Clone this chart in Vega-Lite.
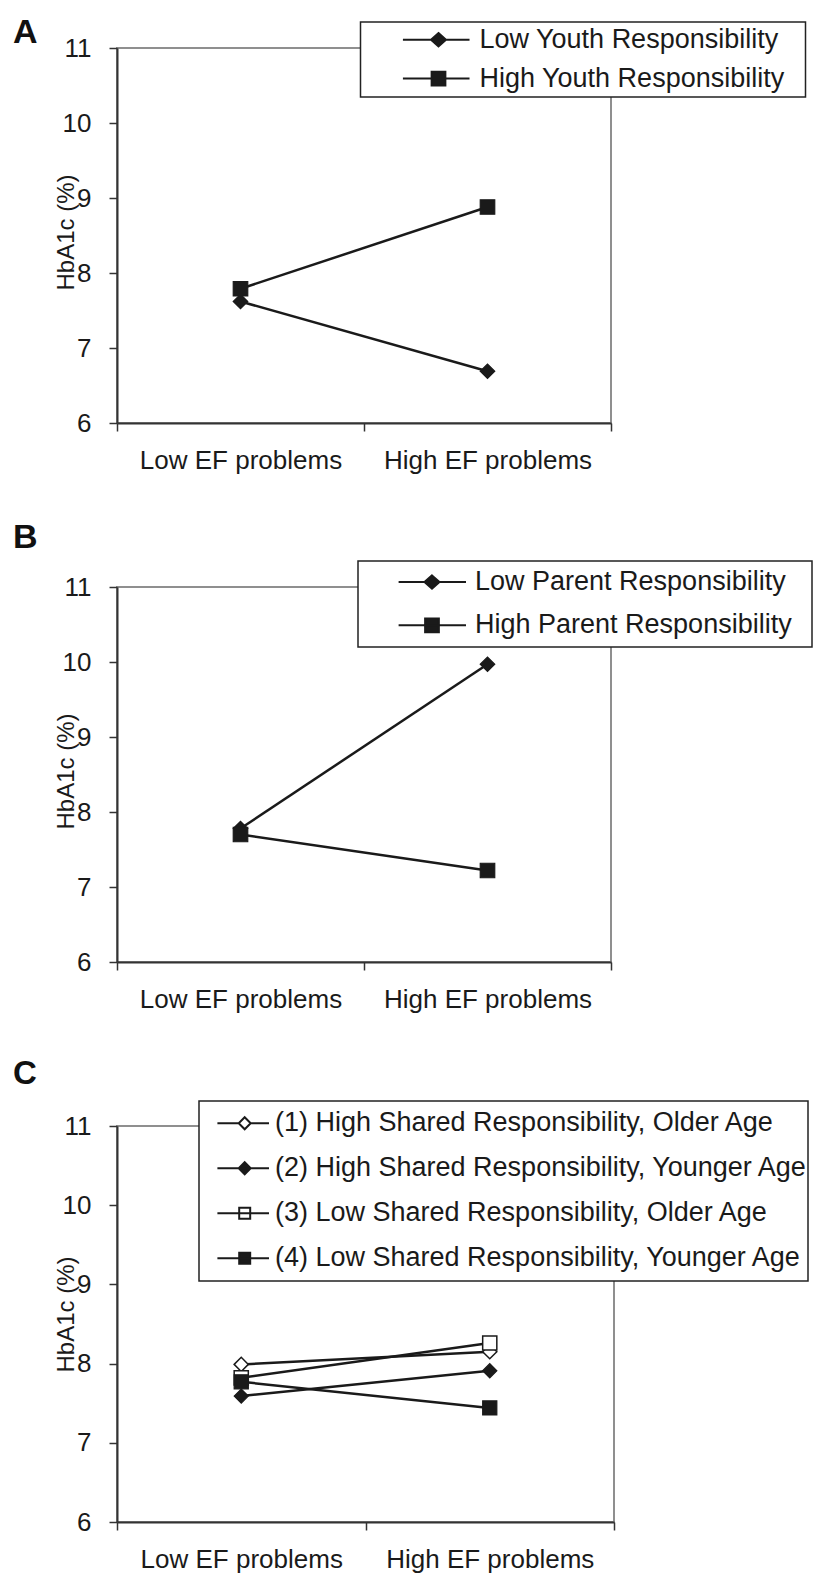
{
  "$schema": "https://vega.github.io/schema/vega-lite/v6.json",
  "padding": {"left": 12, "top": 14, "right": 0, "bottom": 0},
  "bounds": "flush",
  "spacing": 164,
  "background": "white",
  "resolve": {
    "scale": {"x": "independent", "y": "independent", "shape": "independent", "fill": "independent", "stroke": "independent"},
    "legend": {"shape": "independent", "fill": "independent", "stroke": "independent"}
  },
  "config": {
    "font": "Liberation Sans",
    "view": {"stroke": "#8f8f8f", "strokeWidth": 2},
    "axis": {
      "labelFont": "Liberation Sans", "labelFontSize": 26, "labelColor": "#1a1a1a", "labelLimit": 400,
      "domainColor": "#333333", "domainWidth": 2, "tickColor": "#333333", "tickWidth": 1.5, "tickSize": 8,
      "grid": false, "titleFont": "Liberation Sans", "titleFontWeight": "normal", "titleColor": "#1a1a1a"
    },
    "legend": {
      "labelFont": "Liberation Sans", "labelColor": "#1a1a1a", "strokeColor": "#222222", "strokeWidth": 1.5,
      "padding": 0, "fillColor": "white", "labelLimit": 2000, "symbolOpacity": 1, "symbolStrokeColor": "#1a1a1a"
    }
  },
  "datasets": {
    "a": [
      {"series": "Low Youth Responsibility", "ef": "Low EF problems", "hba1c": 7.62},
      {"series": "Low Youth Responsibility", "ef": "High EF problems", "hba1c": 6.69},
      {"series": "High Youth Responsibility", "ef": "Low EF problems", "hba1c": 7.79},
      {"series": "High Youth Responsibility", "ef": "High EF problems", "hba1c": 8.88}
    ],
    "b": [
      {"series": "Low Parent Responsibility", "ef": "Low EF problems", "hba1c": 7.78},
      {"series": "Low Parent Responsibility", "ef": "High EF problems", "hba1c": 9.97},
      {"series": "High Parent Responsibility", "ef": "Low EF problems", "hba1c": 7.70},
      {"series": "High Parent Responsibility", "ef": "High EF problems", "hba1c": 7.22}
    ],
    "c": [
      {"series": "(1) High Shared Responsibility, Older Age", "ef": "Low EF problems", "hba1c": 7.99},
      {"series": "(1) High Shared Responsibility, Older Age", "ef": "High EF problems", "hba1c": 8.15},
      {"series": "(2) High Shared Responsibility, Younger Age", "ef": "Low EF problems", "hba1c": 7.59},
      {"series": "(2) High Shared Responsibility, Younger Age", "ef": "High EF problems", "hba1c": 7.91},
      {"series": "(3) Low Shared Responsibility, Older Age", "ef": "Low EF problems", "hba1c": 7.82},
      {"series": "(3) Low Shared Responsibility, Older Age", "ef": "High EF problems", "hba1c": 8.26},
      {"series": "(4) Low Shared Responsibility, Younger Age", "ef": "Low EF problems", "hba1c": 7.77},
      {"series": "(4) Low Shared Responsibility, Younger Age", "ef": "High EF problems", "hba1c": 7.44}
    ]
  },
  "vconcat": [
    {
      "title": {"text": "A", "anchor": "start", "frame": "group", "dx": -104, "dy": 55.7, "offset": 0, "fontSize": 34, "fontWeight": "bold", "font": "Liberation Sans", "color": "#111111", "baseline": "alphabetic"},
      "data": {"name": "a"},
      "width": 494, "height": 375,
      "encoding": {
        "x": {"field": "ef", "type": "nominal", "sort": ["Low EF problems", "High EF problems"], "scale": {"type": "band", "paddingInner": 0, "paddingOuter": 0}, "axis": {"title": null, "labelAngle": 0, "tickBand": "extent", "labelPadding": 16}},
        "y": {"field": "hba1c", "type": "quantitative", "scale": {"domain": [6, 11], "nice": false, "zero": false}, "axis": {"values": [6, 7, 8, 9, 10, 11], "title": "HbA1c (%)", "titleFontSize": 24, "titleX": -44, "titleY": 184, "titleBaseline": "alphabetic", "labelPadding": 18}}
      },
      "layer": [
        {"mark": {"type": "line", "stroke": "#1a1a1a", "strokeWidth": 2.5}, "encoding": {"detail": {"field": "series", "type": "nominal"}}},
        {"mark": {"type": "point", "filled": false, "strokeWidth": 2, "opacity": 0},
         "encoding": {
           "shape": {"field": "series", "type": "nominal", "scale": {"domain": ["Low Youth Responsibility", "High Youth Responsibility"], "range": ["M-0.247,0H0.964M0.4,-0.12L0.536,0L0.4,0.12L0.264,0Z", "M-0.247,0H0.964M0.275,-0.125H0.525V0.125H0.275Z"]},
             "legend": {"orient": "none", "legendX": 243.5, "legendY": -26, "title": null, "labelFontSize": 27, "symbolSize": 12100, "symbolStrokeWidth": 2, "symbolOpacity": 1, "clipHeight": 35.4, "rowPadding": 2.9, "labelOffset": 7, "padding": 0,
               "labelExpr": "datum.label + '\u2800'"}},
           "fill": {"field": "series", "type": "nominal", "scale": {"domain": ["Low Youth Responsibility", "High Youth Responsibility"], "range": ["#1a1a1a", "#1a1a1a"]}},
           "stroke": {"field": "series", "type": "nominal", "scale": {"domain": ["Low Youth Responsibility", "High Youth Responsibility"], "range": ["#1a1a1a", "#1a1a1a"]}}
         }},
        {"transform": [{"filter": "datum.series === 'Low Youth Responsibility'"}],
         "mark": {"type": "point", "shape": "diamond", "filled": true, "fill": "#1a1a1a", "stroke": "#1a1a1a", "strokeWidth": 1.2, "size": 210, "opacity": 1}},
        {"transform": [{"filter": "datum.series === 'High Youth Responsibility'"}],
         "mark": {"type": "point", "shape": "square", "filled": true, "fill": "#1a1a1a", "stroke": "#1a1a1a", "strokeWidth": 1.2, "size": 210, "opacity": 1}}
      ]
    },
    {
      "title": {"text": "B", "anchor": "start", "frame": "group", "dx": -104, "dy": 21.3, "offset": 0, "fontSize": 34, "fontWeight": "bold", "font": "Liberation Sans", "color": "#111111", "baseline": "alphabetic"},
      "data": {"name": "b"},
      "width": 494, "height": 375,
      "encoding": {
        "x": {"field": "ef", "type": "nominal", "sort": ["Low EF problems", "High EF problems"], "scale": {"type": "band", "paddingInner": 0, "paddingOuter": 0}, "axis": {"title": null, "labelAngle": 0, "tickBand": "extent", "labelPadding": 16}},
        "y": {"field": "hba1c", "type": "quantitative", "scale": {"domain": [6, 11], "nice": false, "zero": false}, "axis": {"values": [6, 7, 8, 9, 10, 11], "title": "HbA1c (%)", "titleFontSize": 24, "titleX": -44, "titleY": 184, "titleBaseline": "alphabetic", "labelPadding": 18}}
      },
      "layer": [
        {"mark": {"type": "line", "stroke": "#1a1a1a", "strokeWidth": 2.5}, "encoding": {"detail": {"field": "series", "type": "nominal"}}},
        {"mark": {"type": "point", "filled": false, "strokeWidth": 2, "opacity": 0},
         "encoding": {
           "shape": {"field": "series", "type": "nominal", "scale": {"domain": ["Low Parent Responsibility", "High Parent Responsibility"], "range": ["M-0.28,0H0.945M0.327,-0.12L0.463,0L0.327,0.12L0.191,0Z", "M-0.28,0H0.945M0.202,-0.125H0.452V0.125H0.202Z"]},
             "legend": {"orient": "none", "legendX": 241, "legendY": -26, "title": null, "labelFontSize": 27, "symbolSize": 12100, "symbolStrokeWidth": 2, "symbolOpacity": 1, "clipHeight": 42, "rowPadding": 1.3, "labelOffset": 5, "padding": 0,
               "labelExpr": "datum.label + '\u2800'"}},
           "fill": {"field": "series", "type": "nominal", "scale": {"domain": ["Low Parent Responsibility", "High Parent Responsibility"], "range": ["#1a1a1a", "#1a1a1a"]}},
           "stroke": {"field": "series", "type": "nominal", "scale": {"domain": ["Low Parent Responsibility", "High Parent Responsibility"], "range": ["#1a1a1a", "#1a1a1a"]}}
         }},
        {"transform": [{"filter": "datum.series === 'Low Parent Responsibility'"}],
         "mark": {"type": "point", "shape": "diamond", "filled": true, "fill": "#1a1a1a", "stroke": "#1a1a1a", "strokeWidth": 1.2, "size": 210, "opacity": 1}},
        {"transform": [{"filter": "datum.series === 'High Parent Responsibility'"}],
         "mark": {"type": "point", "shape": "square", "filled": true, "fill": "#1a1a1a", "stroke": "#1a1a1a", "strokeWidth": 1.2, "size": 210, "opacity": 1}}
      ]
    },
    {
      "title": {"text": "C", "anchor": "start", "frame": "group", "dx": -104, "dy": 17, "offset": 0, "fontSize": 33, "fontWeight": "bold", "font": "Liberation Sans", "color": "#111111", "baseline": "alphabetic"},
      "data": {"name": "c"},
      "width": 497, "height": 396,
      "encoding": {
        "x": {"field": "ef", "type": "nominal", "sort": ["Low EF problems", "High EF problems"], "scale": {"type": "band", "paddingInner": 0, "paddingOuter": 0}, "axis": {"title": null, "labelAngle": 0, "tickBand": "extent", "labelPadding": 16}},
        "y": {"field": "hba1c", "type": "quantitative", "scale": {"domain": [6, 11], "nice": false, "zero": false}, "axis": {"values": [6, 7, 8, 9, 10, 11], "title": "HbA1c (%)", "titleFontSize": 24, "titleX": -44, "titleY": 188, "titleBaseline": "alphabetic", "labelPadding": 18}}
      },
      "layer": [
        {"mark": {"type": "line", "stroke": "#1a1a1a", "strokeWidth": 2.5}, "encoding": {"detail": {"field": "series", "type": "nominal"}}},
        {"mark": {"type": "point", "filled": false, "strokeWidth": 2, "opacity": 0},
         "encoding": {
           "shape": {"field": "series", "type": "nominal", "scale": {"domain": ["(1) High Shared Responsibility, Older Age", "(2) High Shared Responsibility, Younger Age", "(3) Low Shared Responsibility, Older Age", "(4) Low Shared Responsibility, Younger Age"], "range": ["M-0.503,0H0.106M0.448,0H0.971M0.277,-0.171L0.448,0L0.277,0.171L0.106,0Z", "M-0.503,0H0.971M0.277,-0.171L0.448,0L0.277,0.171L0.106,0Z", "M-0.503,0H0.971M0.12,-0.157H0.434V0.157H0.12Z", "M-0.503,0H0.971M0.12,-0.157H0.434V0.157H0.12Z"]},
             "legend": {"orient": "none", "legendX": 82, "legendY": -25, "title": null, "labelFontSize": 27, "symbolSize": 4900, "symbolStrokeWidth": 2, "symbolOpacity": 1, "clipHeight": 44.5, "rowPadding": 0, "labelOffset": 4, "padding": 0}},
           "fill": {"field": "series", "type": "nominal", "scale": {"domain": ["(1) High Shared Responsibility, Older Age", "(2) High Shared Responsibility, Younger Age", "(3) Low Shared Responsibility, Older Age", "(4) Low Shared Responsibility, Younger Age"], "range": ["white", "#1a1a1a", "white", "#1a1a1a"]}},
           "stroke": {"field": "series", "type": "nominal", "scale": {"domain": ["(1) High Shared Responsibility, Older Age", "(2) High Shared Responsibility, Younger Age", "(3) Low Shared Responsibility, Older Age", "(4) Low Shared Responsibility, Younger Age"], "range": ["#1a1a1a", "#1a1a1a", "#1a1a1a", "#1a1a1a"]}}
         }},
        {"transform": [{"filter": "datum.series === '(1) High Shared Responsibility, Older Age'"}],
         "mark": {"type": "point", "shape": "diamond", "filled": true, "fill": "white", "stroke": "#1a1a1a", "strokeWidth": 1.5, "size": 200, "opacity": 1}},
        {"transform": [{"filter": "datum.series === '(2) High Shared Responsibility, Younger Age'"}],
         "mark": {"type": "point", "shape": "diamond", "filled": true, "fill": "#1a1a1a", "stroke": "#1a1a1a", "strokeWidth": 1.2, "size": 200, "opacity": 1}},
        {"transform": [{"filter": "datum.series === '(3) Low Shared Responsibility, Older Age'"}],
         "mark": {"type": "point", "shape": "square", "filled": true, "fill": "white", "stroke": "#1a1a1a", "strokeWidth": 1.5, "size": 200, "opacity": 1}},
        {"transform": [{"filter": "datum.series === '(4) Low Shared Responsibility, Younger Age'"}],
         "mark": {"type": "point", "shape": "square", "filled": true, "fill": "#1a1a1a", "stroke": "#1a1a1a", "strokeWidth": 1.2, "size": 200, "opacity": 1}}
      ]
    }
  ]
}
